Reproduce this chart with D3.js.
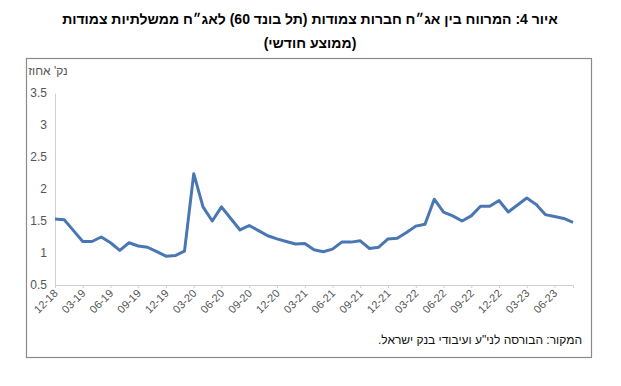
<!DOCTYPE html>
<html>
<head>
<meta charset="utf-8">
<script src="https://cdn.jsdelivr.net/npm/d3@7"></script>
<style>
  body { margin: 0; background: #fff; }
  svg { display: block; }
  svg text { font-family: "Liberation Sans", "DejaVu Sans", sans-serif; }
</style>
</head>
<body>
<svg id="chart" width="621" height="386"></svg>
<script>
const titleLines = [
  "איור 4: המרווח בין אג״ח חברות צמודות (תל בונד 60) לאג״ח ממשלתיות צמודות",
  "(ממוצע חודשי)"
];
const yAxisTitle = "נק' אחוז";
const sourceNote = "המקור: הבורסה לני\"ע ועיבודי בנק ישראל.";

// monthly, 12-18 .. 08-23
const months = [
  "12-18", "01-19", "02-19", "03-19", "04-19", "05-19", "06-19", "07-19", "08-19", "09-19", "10-19", "11-19",
  "12-19", "01-20", "02-20", "03-20", "04-20", "05-20", "06-20", "07-20", "08-20", "09-20", "10-20", "11-20",
  "12-20", "01-21", "02-21", "03-21", "04-21", "05-21", "06-21", "07-21", "08-21", "09-21", "10-21", "11-21",
  "12-21", "01-22", "02-22", "03-22", "04-22", "05-22", "06-22", "07-22", "08-22", "09-22", "10-22", "11-22",
  "12-22", "01-23", "02-23", "03-23", "04-23", "05-23", "06-23", "07-23", "08-23"
];
const spread = [
  1.53, 1.52, 1.35, 1.18, 1.18, 1.25, 1.16, 1.04, 1.16, 1.11, 1.09, 1.02,
  0.95, 0.96, 1.03, 2.24, 1.72, 1.50, 1.72, 1.54, 1.36, 1.43, 1.35, 1.27,
  1.22, 1.18, 1.14, 1.15, 1.05, 1.02, 1.06, 1.17, 1.17, 1.19, 1.07, 1.09,
  1.22, 1.23, 1.32, 1.42, 1.45, 1.84, 1.64, 1.58, 1.50, 1.58, 1.73, 1.73,
  1.82, 1.64, 1.75, 1.86, 1.76, 1.60, 1.57, 1.54, 1.48
];
const yTicks = [0.5, 1, 1.5, 2, 2.5, 3, 3.5];

const frame = { left: 26, top: 58, right: 591, bottom: 357 };
const plot = { left: 55, right: 573, top: 93, bottom: 285 };

const svg = d3.select("#chart");

// outer box of the chart area
svg.append("rect")
  .attr("x", frame.left + 0.5)
  .attr("y", frame.top + 0.5)
  .attr("width", frame.right - frame.left)
  .attr("height", frame.bottom - frame.top)
  .attr("fill", "none")
  .attr("stroke", "#8a8a8a")
  .attr("stroke-width", 1.2);

// title
svg.selectAll(".title")
  .data(titleLines)
  .enter()
  .append("text")
  .attr("class", "title")
  .attr("x", 310)
  .attr("y", (d, i) => 24 + i * 24)
  .attr("text-anchor", "middle")
  .attr("direction", "rtl")
  .attr("font-size", 14)
  .attr("font-weight", "bold")
  .attr("fill", "#000")
  .text(d => d);

const x = d3.scalePoint()
  .domain(months)
  .range([plot.left, plot.right]);

const y = d3.scaleLinear()
  .domain([0.5, 3.5])
  .range([plot.bottom, plot.top]);

// y axis
const yAxis = d3.axisLeft(y)
  .tickValues(yTicks)
  .tickSize(0)
  .tickPadding(8)
  .tickFormat(d3.format("~g"));

const gy = svg.append("g")
  .attr("transform", `translate(${plot.left},0)`)
  .call(yAxis);
gy.select(".domain").attr("stroke", "#d0d0d0");
gy.selectAll("text")
  .attr("font-size", 12)
  .attr("fill", "#555")
  .attr("font-family", "Liberation Sans, DejaVu Sans, sans-serif");

// x axis, a label every quarter
const quarterLabels = months.filter((m, i) => i % 3 === 0);
const xAxis = d3.axisBottom(x)
  .tickValues(quarterLabels)
  .tickSize(3)
  .tickPadding(4);

const gx = svg.append("g")
  .attr("transform", `translate(0,${plot.bottom})`)
  .call(xAxis);
gx.select(".domain").attr("stroke", "#d0d0d0");
gx.selectAll(".tick line").attr("stroke", "#d0d0d0");
gx.selectAll("text")
  .attr("font-size", 11)
  .attr("fill", "#555")
  .attr("font-family", "Liberation Sans, DejaVu Sans, sans-serif")
  .attr("text-anchor", "end")
  .attr("dy", 0)
  .attr("y", 0)
  .attr("transform", "translate(3,9) rotate(-45)");

// y axis title
svg.append("text")
  .attr("x", 48)
  .attr("y", 75)
  .attr("text-anchor", "middle")
  .attr("direction", "rtl")
  .attr("font-size", 12)
  .attr("fill", "#555")
  .text(yAxisTitle);

// spread line
const line = d3.line()
  .x((d, i) => x(months[i]))
  .y(d => y(d));

svg.append("path")
  .datum(spread)
  .attr("fill", "none")
  .attr("stroke", "#4a77b4")
  .attr("stroke-width", 3)
  .attr("stroke-linejoin", "round")
  .attr("d", line);

// source
svg.append("text")
  .attr("x", 582)
  .attr("y", 344)
  .attr("text-anchor", "start")
  .attr("direction", "rtl")
  .attr("font-size", 12)
  .attr("fill", "#111")
  .text(sourceNote);
</script>
</body>
</html>
